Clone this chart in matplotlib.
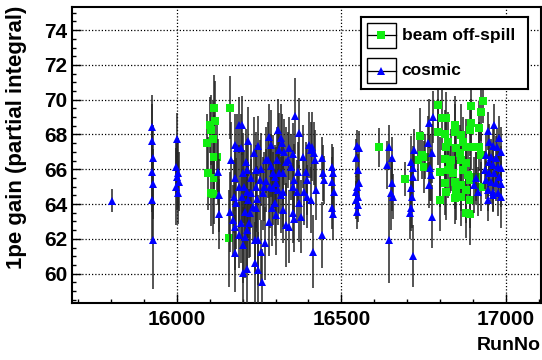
import matplotlib
matplotlib.use('Agg')
import matplotlib.pyplot as plt
from matplotlib.patches import Rectangle
from matplotlib.ticker import MultipleLocator

plt.rcParams['font.family'] = ['Liberation Sans', 'DejaVu Sans']
plt.rcParams['font.weight'] = 'bold'

# ---- cosmic runs (blue triangles) ----
cos_left_run = [15803, 15926, 15926, 15927, 15925, 15928, 15926, 15929,
                16002, 15998, 16004, 16000, 16006, 15997, 16003, 16126, 16127, 16128]
cos_left_gain = [64.2, 68.45, 67.64, 66.67, 65.86, 65.15, 64.23, 61.93,
                 67.72, 66.15, 65.77, 65.54, 65.29, 65.0, 64.66, 65.86, 64.52, 63.43]
cos_left_err = [0.65, 1.8, 2.1, 1.9, 2.3, 2.0, 2.4, 2.8,
                1.5, 1.6, 2.0, 1.9, 1.7, 2.2, 1.8, 1.9, 2.1, 2.0]

cos_dense_run = [16188, 16178, 16183, 16166, 16176, 16188, 16173, 16181, 16163, 16170, 16178, 16188, 16176,
                 16197, 16195, 16210, 16200, 16214, 16204, 16197, 16212, 16217, 16207,
                 16195, 16220, 16214, 16202, 16237, 16247, 16267, 16257, 16237, 16247,
                 16202, 16214, 16260, 16234, 16247, 16240, 16242, 16232, 16240, 16222,
                 16280, 16287, 16277, 16270, 16284, 16292, 16297, 16302, 16280, 16307,
                 16317, 16320, 16312, 16304, 16310, 16322, 16307, 16317, 16324, 16332,
                 16342, 16360, 16370, 16352, 16337, 16347, 16357, 16364, 16370, 16352,
                 16357, 16377, 16382, 16392, 16397, 16402, 16407, 16412, 16417, 16420,
                 16397, 16407, 16414, 16422, 16442, 16444, 16447, 16442, 16472, 16474,
                 16470, 16477, 16470, 16475, 16327, 16332, 16342, 16352, 16367, 16387,
                 16322, 16292, 16297, 16262, 16272, 16252, 16227, 16207, 16225, 16255,
                 16265, 16285, 16300, 16245, 16290, 16215]
cos_dense_gain = [68.54, 67.4, 67.2, 66.53, 65.48, 65.0, 64.43, 64.04, 63.56, 63.08, 62.7, 62.22, 61.17,
                  68.54, 67.2, 66.44, 65.77, 65.96, 65.0, 64.43, 64.71, 64.23, 63.56,
                  62.89, 62.89, 62.51, 61.65, 61.93, 61.93, 61.74, 61.26, 60.59, 60.21,
                  60.02, 60.25, 59.54, 66.92, 67.34, 65.96, 65.0, 63.85, 63.76, 63.47,
                  67.84, 67.4, 66.53, 65.35, 65.0, 64.9, 64.04, 63.37, 62.99, 68.26,
                  67.78, 67.49, 67.11, 66.53, 65.77, 65.77, 64.81, 64.52, 63.66, 62.8,
                  62.7, 69.06, 68.1, 66.88, 66.53, 66.15, 65.38, 64.71, 64.04, 63.47,
                  63.12, 63.28, 66.72, 65.86, 65.38, 67.4, 67.11, 67.3, 66.92, 66.53,
                  64.43, 64.23, 61.26, 64.81, 66.63, 65.77, 65.38, 62.22, 66.15, 65.77,
                  65.29, 64.71, 63.76, 63.43, 67.01, 66.44, 67.2, 65.0, 65.86, 64.71,
                  64.71, 65.77, 65.57, 64.62, 66.53, 65.38, 64.62, 62.13, 65.5, 66.0,
                  65.0, 66.2, 65.2, 64.3, 63.8, 67.6]
cos_dense_err = [1.6, 1.8, 2.0, 2.2, 1.9, 2.4, 2.1, 2.6, 2.3, 2.0, 2.5, 1.9, 2.2,
                 1.7, 2.0, 1.9, 2.3, 1.8, 2.1, 2.5, 1.9, 2.2, 2.0,
                 2.3, 2.0, 2.4, 2.2, 1.9, 2.6, 2.1, 1.8, 2.4, 2.2,
                 2.0, 2.3, 1.9, 2.1, 1.7, 2.2, 2.4, 2.0, 1.8, 2.5,
                 1.9, 2.0, 2.2, 1.8, 2.4, 2.1, 1.9, 2.3, 2.0, 1.8,
                 2.0, 1.7, 2.1, 1.9, 2.3, 1.8, 2.0, 2.2, 1.9, 2.4,
                 2.1, 2.2, 2.0, 1.8, 1.6, 1.9, 2.1, 1.8, 2.2, 1.7,
                 1.9, 2.1, 1.8, 1.7, 2.0, 1.9, 1.6, 2.0, 1.8, 1.7,
                 1.8, 1.9, 2.1, 1.7, 1.2, 1.6, 1.4, 1.9, 1.3, 1.5,
                 1.4, 1.3, 1.2, 1.5, 1.9, 2.0, 1.8, 2.1, 1.7, 1.9,
                 2.0, 2.2, 1.8, 2.1, 1.9, 2.3, 2.0, 2.4, 1.9, 2.1,
                 2.0, 1.8, 2.1, 1.9, 2.2, 2.0]

cos_mid_run = [16548, 16552, 16543, 16550, 16553, 16547, 16545, 16551, 16544, 16549, 16546,
               16646, 16653, 16639, 16654, 16651, 16656, 16644,
               16721, 16711, 16718, 16716, 16711, 16714, 16711, 16709, 16718,
               16766, 16764, 16768, 16771, 16766, 16774, 16779, 16774]
cos_mid_gain = [67.34, 67.2, 66.63, 65.96, 65.19, 65.0, 64.71, 64.43, 64.23, 63.95, 63.56,
                67.26, 66.63, 66.25, 65.19, 64.62, 64.43, 61.93,
                67.11, 66.44, 66.05, 65.57, 64.9, 64.43, 63.76, 63.47, 61.02,
                68.64, 67.49, 66.05, 65.67, 65.1, 63.28, 69.02, 66.92]
cos_mid_err = [0.9, 1.0, 1.1, 0.9, 1.0, 1.1, 0.9, 1.0, 1.1, 1.0, 1.0,
               1.3, 1.2, 1.4, 1.6, 2.1, 1.3, 2.45,
               1.2, 1.5, 1.3, 1.4, 1.6, 1.8, 1.3, 1.5, 1.8,
               1.4, 1.6, 1.9, 1.5, 1.3, 1.8, 1.5, 1.7]

cos_right_run = [16964, 16944, 16979, 16947, 16959, 16971, 16984, 16939, 16954, 16969,
                 16947, 16959, 16974, 16984, 16937, 16949, 16964, 16979, 16909, 16939,
                 16954, 16969, 16984, 16904, 16914, 16944, 16959, 16974, 16984, 16944, 16959]
cos_right_gain = [68.54, 68.22, 67.78, 67.59, 67.34, 67.26, 67.01, 66.82, 66.72, 66.63,
                  66.44, 66.25, 66.15, 66.05, 65.96, 65.77, 65.77, 65.57, 65.48, 65.38,
                  65.29, 65.19, 65.15, 65.1, 64.71, 64.81, 64.71, 64.62, 64.43, 64.23, 64.52]
cos_right_err = [1.2, 1.1, 1.3, 1.0, 1.2, 1.1, 1.4, 1.2, 1.0, 1.3,
                 1.1, 1.2, 1.0, 1.3, 1.1, 1.2, 1.0, 1.4, 1.5, 1.1,
                 1.2, 1.0, 1.3, 1.6, 1.4, 1.2, 1.1, 1.3, 1.8, 1.2, 1.0]

# ---- beam off-spill runs (green squares) ----
beam_left_run = [16114, 16162, 16117, 16100, 16105, 16110, 16091, 16113, 16123, 16095, 16113, 16104, 16109, 16160]
beam_left_gain = [69.5, 69.54, 68.78, 68.55, 68.26, 67.72, 67.49, 66.72, 66.72, 65.77, 65.48, 64.66, 64.6, 62.03]
beam_left_err = [1.9, 1.8, 2.3, 1.6, 2.0, 2.2, 1.7, 2.4, 2.0, 2.1, 2.6, 1.9, 2.3, 2.8]

beam_mid_run = [16614, 16694, 16738, 16744, 16733, 16751, 16754]
beam_mid_gain = [67.26, 65.44, 67.91, 66.82, 66.53, 66.15, 66.72]
beam_mid_err = [1.1, 1.0, 1.6, 1.4, 1.2, 1.5, 1.3]

beam_right_run = [16794, 16804, 16819, 16844, 16794, 16814, 16844, 16894, 16931, 16924,
                  16894, 16919, 16864, 16889, 16824, 16869, 16879, 16819, 16849, 16894,
                  16919, 16924, 16834, 16814, 16864, 16879, 16799, 16824, 16839, 16869,
                  16884, 16814, 16844, 16864, 16889, 16849, 16879, 16924, 16819, 16799,
                  16844, 16864, 16889, 16879, 16889, 16829, 16859, 16909]
beam_right_gain = [69.69, 68.93, 68.93, 68.54, 68.16, 68.03, 68.16, 69.64, 69.94, 69.31,
                   68.64, 68.35, 67.97, 68.26, 67.59, 67.59, 67.3, 67.3, 67.2, 67.26,
                   67.3, 66.82, 66.53, 66.57, 66.53, 66.34, 65.86, 65.96, 65.77, 65.96,
                   65.67, 65.19, 65.29, 65.1, 65.38, 64.81, 64.81, 65.0, 64.71, 64.23,
                   64.33, 64.43, 64.23, 63.47, 63.43, 66.15, 66.92, 65.57]
beam_right_err = [1.6, 1.8, 1.5, 1.7, 1.9, 1.4, 1.6, 1.5, 1.3, 1.7,
                  1.4, 1.6, 1.8, 1.5, 1.7, 1.4, 1.6, 1.9, 1.5, 1.3,
                  1.4, 1.6, 1.8, 1.5, 1.7, 1.4, 2.0, 1.6, 1.5, 1.7,
                  1.4, 1.8, 1.6, 1.5, 1.3, 1.7, 1.9, 1.4, 1.6, 1.8,
                  1.5, 1.7, 1.6, 1.4, 1.8, 1.5, 1.6, 1.4]

cosmic_run = cos_left_run + cos_dense_run + cos_mid_run + cos_right_run
cosmic_gain = cos_left_gain + cos_dense_gain + cos_mid_gain + cos_right_gain
cosmic_err = cos_left_err + cos_dense_err + cos_mid_err + cos_right_err
beam_run = beam_left_run + beam_mid_run + beam_right_run
beam_gain = beam_left_gain + beam_mid_gain + beam_right_gain
beam_err = beam_left_err + beam_mid_err + beam_right_err

W, H = 542, 360
fig = plt.figure(figsize=(W / 100, H / 100), dpi=100)
ax = fig.add_axes([72 / W, 1 - 302.7 / H, 469 / W, 295.7 / H])

ebar_color = '#262626'
ax.errorbar(beam_run, beam_gain, yerr=beam_err, fmt='s', ms=5.6, mfc='#11ee11',
            mec='#11ee11', mew=0, ecolor=ebar_color, elinewidth=1.1, capsize=1.4,
            capthick=1.0, zorder=3)
ax.errorbar(cosmic_run, cosmic_gain, yerr=cosmic_err, fmt='^', ms=6.2, mfc='#0000ff',
            mec='#0000ff', mew=0, ecolor=ebar_color, elinewidth=1.1, capsize=1.4,
            capthick=1.0, zorder=4)

ax.set_xlim(15682, 17106)
ax.set_ylim(58.33, 75.33)
ax.xaxis.set_major_locator(MultipleLocator(500))
ax.xaxis.set_minor_locator(MultipleLocator(100))
ax.yaxis.set_major_locator(MultipleLocator(2))
ax.yaxis.set_minor_locator(MultipleLocator(0.5))
ax.grid(True, which='major', color='black', linestyle=(0, (1, 1.6)), linewidth=0.9)
ax.set_axisbelow(True)
ax.tick_params(which='both', direction='in', top=False, right=False, width=1.0,
               labelsize=15)
ax.tick_params(axis='x', which='major', length=6.5, pad=5.5)
ax.tick_params(axis='y', which='major', length=6.5, pad=3.2)
ax.tick_params(which='minor', length=3.2)
for tl in ax.get_xticklabels() + ax.get_yticklabels():
    tl.set_fontweight('bold')
for s in ax.spines.values():
    s.set_linewidth(1.5)

ax.set_xlabel('RunNo', fontsize=14, fontweight='bold', loc='right')
ax.xaxis.set_label_coords(1.0, -0.117)
ax.set_ylabel('1pe gain (partial integral)', fontsize=16, fontweight='bold', loc='top')
ax.yaxis.set_label_coords(-0.097, 1.006)

# legend box drawn by hand, ROOT style
lx0, ly0, lw, lh = 360.7, 16.7, 167.0, 72.6
lax = fig.add_axes([lx0 / W, 1 - (ly0 + lh) / H, lw / W, lh / H])
lax.set_xlim(0, lw)
lax.set_ylim(lh, 0)
lax.set_xticks([])
lax.set_yticks([])
lax.set_facecolor('white')
for s in lax.spines.values():
    s.set_linewidth(1.5)
entries = [('beam off-spill', 's', '#11ee11', 5.6, 6.0, 31.0),
           ('cosmic', '^', '#0000ff', 6.2, 41.6, 66.0)]
for label, mk, col, msz, y0, y1 in entries:
    lax.add_patch(Rectangle((6, y0), 29.3, y1 - y0, fill=False, lw=1.0, ec='black'))
    yc = (y0 + y1) / 2
    lax.plot([6, 35.3], [yc, yc], color='black', lw=0.9)
    lax.plot([20.6], [yc], marker=mk, ms=msz, mfc=col, mec=col, mew=0)
    lax.text(41, y1 - 7.6, label, fontsize=12.5, fontweight='bold', va='baseline', ha='left')

fig.savefig('out.png', dpi=100)
